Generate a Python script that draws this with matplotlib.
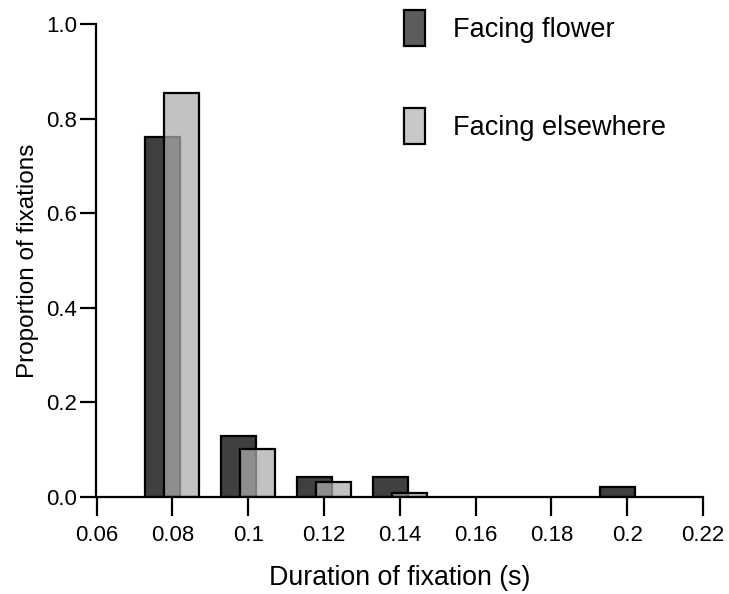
import matplotlib
matplotlib.use("Agg")
import matplotlib.pyplot as plt
from matplotlib.patches import Patch

plt.rcParams['font.family'] = ['Liberation Sans', 'DejaVu Sans']

# Data
bins = [0.08, 0.10, 0.12, 0.14, 0.20]
facing_flower = [0.761, 0.129, 0.042, 0.042, 0.021]
bins_else = [0.08, 0.10, 0.12, 0.14]
facing_elsewhere = [0.855, 0.101, 0.032, 0.008]
xticks = [0.06, 0.08, 0.10, 0.12, 0.14, 0.16, 0.18, 0.20, 0.22]
xticklabels = ["0.06", "0.08", "0.1", "0.12", "0.14", "0.16", "0.18", "0.2", "0.22"]
yticks = [0.0, 0.2, 0.4, 0.6, 0.8, 1.0]
yticklabels = ["0.0", "0.2", "0.4", "0.6", "0.8", "1.0"]

W, H = 729, 594
fig = plt.figure(figsize=(W / 100, H / 100), dpi=100)
ax = fig.add_axes([96.5 / W, 1 - 497 / H, (703 - 96.5) / W, (497 - 24) / H])

bw = 0.0092
off = 0.0025
dark = '#404040'
light_rgba = (0.675, 0.675, 0.675, 0.73)

ax.bar([b - off for b in bins], facing_flower, width=bw, color=dark,
       edgecolor='black', linewidth=1.6, zorder=2)
ax.bar([b + off for b in bins_else], facing_elsewhere, width=bw, facecolor=light_rgba,
       edgecolor='black', linewidth=1.6, zorder=3)

ax.set_xlim(0.06, 0.22)
ax.set_ylim(0, 1.0)
ax.spines['top'].set_visible(False)
ax.spines['right'].set_visible(False)
for s in ['left', 'bottom']:
    ax.spines[s].set_linewidth(1.6)
    ax.spines[s].set_zorder(4)
ax.set_xticks(xticks)
ax.set_xticklabels(xticklabels)
ax.set_yticks(yticks)
ax.set_yticklabels(yticklabels)
ax.tick_params(axis='x', direction='out', length=13.5, width=1.6, labelsize=16, pad=6.5)
ax.tick_params(axis='y', direction='out', length=11.5, width=1.6, labelsize=16, pad=2.5)

ax.set_xlabel("Duration of fixation (s)", fontsize=19.3, labelpad=13.5)
ax.set_ylabel("Proportion of fixations", fontsize=17.5, labelpad=5)

handles = [Patch(facecolor='#5c5c5c', edgecolor='black', linewidth=1.6),
           Patch(facecolor='#c8c8c8', edgecolor='black', linewidth=1.6)]
leg = ax.legend(handles, ["Facing flower", "Facing elsewhere"], frameon=False,
                loc='upper left', bbox_to_anchor=(0.4885, 1.0515), fontsize=19.5,
                handlelength=0.78, handleheight=1.667, labelspacing=2.29,
                handletextpad=1.06, borderaxespad=0)

fig.savefig("out.png", dpi=100)
